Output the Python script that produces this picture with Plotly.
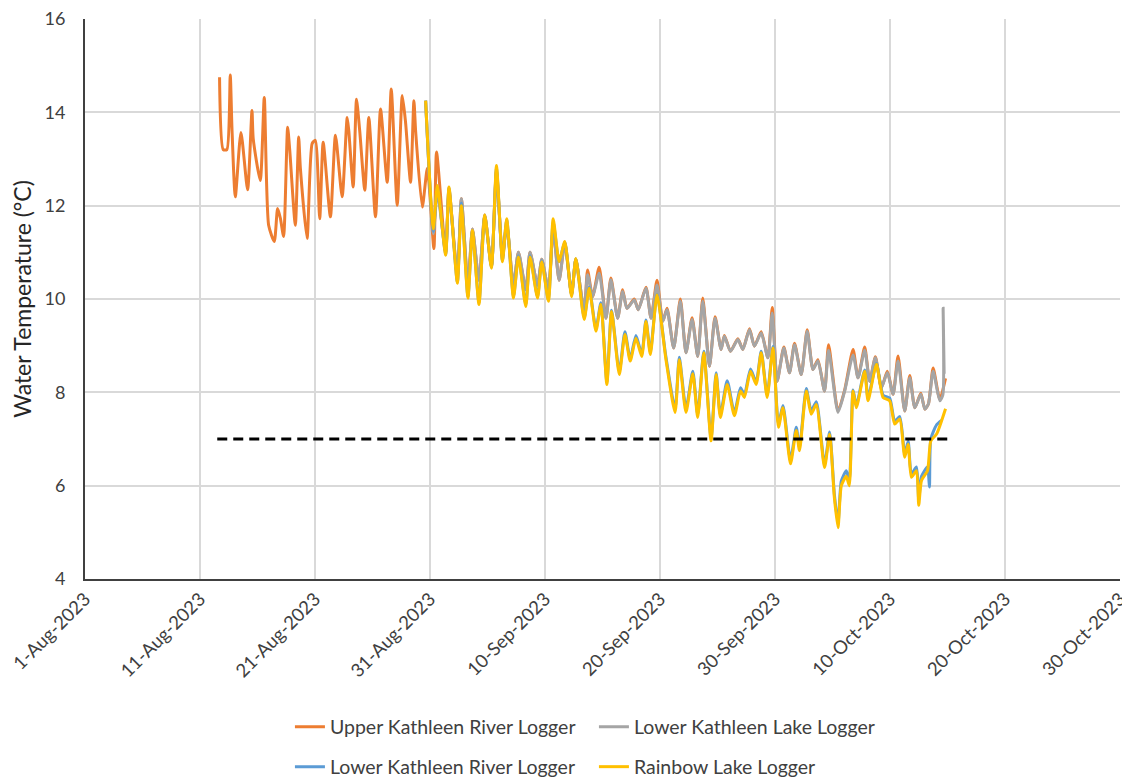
import pandas as pd
import plotly.graph_objects as go

# ---------------- data (days since 1-Aug-2023, water temperature °C) ----------------
START = pd.Timestamp("2023-08-01")

upper_days = [11.70, 12.02, 12.34, 12.63, 12.78, 13.07, 13.56, 14.14, 14.52, 14.63, 15.24, 15.59,
              15.97, 16.46, 16.75, 16.99, 17.27, 17.62, 17.80, 18.29, 18.58, 18.73, 19.31, 19.75,
              20.03, 20.41, 20.71, 21.34, 21.78, 22.36, 22.80, 22.94, 23.32, 23.61, 23.89, 24.33,
              24.68, 25.26, 25.70, 26.28, 26.63, 27.15, 27.59, 27.87, 28.31, 28.60, 28.75, 29.33,
              29.77, 30.34, 30.57, 31.36, 31.65, 32.38, 32.73, 33.30, 33.69, 34.26, 34.76, 35.34,
              35.78, 36.30, 36.67, 37.26, 37.69, 38.33, 38.70, 39.35, 39.72, 40.30, 40.71, 41.23,
              41.72, 42.31, 42.68, 43.41, 43.70, 44.14, 44.71, 45.30, 45.73, 46.32, 46.75, 47.13,
              47.76, 48.11, 48.78, 49.22, 49.74, 50.24, 50.61, 51.19, 51.77, 52.26, 52.79, 53.28,
              53.72, 54.30, 54.79, 55.31, 55.60, 56.13, 56.77, 57.20, 57.78, 58.21, 58.80, 59.38,
              59.76, 60.19, 60.77, 61.26, 61.70, 62.28, 62.80, 63.30, 63.73, 64.31, 64.66, 65.48,
              66.06, 66.79, 67.22, 67.80, 68.23, 68.73, 69.25, 69.77, 70.27, 70.70, 71.28, 71.72,
              72.16, 72.68, 73.03, 73.34, 73.75, 74.33, 74.83]
upper_temp = [14.75, 13.20, 13.20, 14.80, 13.65, 12.19, 13.57, 12.34, 14.04, 13.43, 12.54, 14.32,
              11.58, 11.23, 11.94, 11.73, 11.34, 13.68, 13.20, 11.58, 13.47, 12.80, 11.30, 13.33,
              13.40, 11.72, 13.36, 11.76, 13.51, 12.19, 13.89, 13.60, 12.40, 14.28, 13.60, 12.33,
              13.89, 11.76, 14.07, 12.50, 14.50, 12.01, 14.36, 13.80, 12.50, 14.25, 13.60, 11.97,
              12.80, 11.08, 13.15, 11.00, 12.35, 10.50, 12.15, 10.30, 11.50, 10.40, 11.80, 10.70,
              12.75, 10.90, 11.60, 10.30, 11.00, 10.20, 11.00, 10.30, 10.85, 10.20, 11.50, 10.40,
              11.20, 10.10, 10.85, 9.73, 10.62, 10.05, 10.68, 9.59, 10.45, 9.59, 10.20, 9.80,
              10.00, 9.77, 10.25, 9.59, 10.40, 9.52, 9.80, 8.95, 10.00, 8.85, 9.60, 8.77,
              10.02, 8.56, 9.62, 8.92, 9.22, 8.88, 9.15, 8.92, 9.36, 8.99, 9.30, 8.74,
              9.82, 8.24, 8.97, 8.42, 9.05, 8.38, 9.34, 8.49, 8.70, 8.03, 9.02, 7.60,
              8.05, 8.92, 8.31, 8.97, 8.24, 8.76, 8.10, 8.45, 7.96, 8.78, 7.60, 8.36,
              7.67, 7.98, 7.64, 7.75, 8.52, 7.85, 8.30]

lake_days = [29.62, 30.29, 30.64, 31.36, 31.65, 32.38, 32.73, 33.30, 33.69, 34.26, 34.76, 35.34,
             35.78, 36.30, 36.67, 37.26, 37.69, 38.33, 38.70, 39.35, 39.72, 40.30, 40.71, 41.23,
             41.72, 42.31, 42.68, 43.41, 43.70, 44.14, 44.71, 45.30, 45.73, 46.32, 46.75, 47.13,
             47.76, 48.11, 48.78, 49.22, 49.74, 50.24, 50.61, 51.19, 51.77, 52.26, 52.79, 53.28,
             53.72, 54.30, 54.79, 55.31, 55.60, 56.13, 56.77, 57.20, 57.78, 58.21, 58.80, 59.38,
             59.76, 60.19, 60.77, 61.26, 61.70, 62.28, 62.80, 63.30, 63.73, 64.31, 64.66, 65.48,
             66.06, 66.79, 67.22, 67.80, 68.23, 68.73, 69.25, 69.77, 70.27, 70.70, 71.28, 71.72,
             72.16, 72.68, 73.03, 73.34, 73.75, 74.33, 74.60, 74.62, 74.71]
lake_temp = [14.25, 11.40, 12.30, 11.00, 12.30, 10.50, 12.15, 10.30, 11.50, 10.40, 11.80, 10.70,
             12.70, 10.90, 11.60, 10.30, 11.00, 10.20, 11.00, 10.30, 10.85, 10.20, 11.50, 10.40,
             11.20, 10.10, 10.85, 9.73, 10.52, 10.05, 10.55, 9.59, 10.41, 9.59, 10.16, 9.80,
             9.98, 9.77, 10.23, 9.59, 10.30, 9.52, 9.77, 8.95, 9.95, 8.85, 9.56, 8.77,
             9.95, 8.56, 9.59, 8.92, 9.20, 8.88, 9.13, 8.92, 9.34, 8.99, 9.27, 8.74,
             9.70, 8.24, 8.95, 8.42, 9.02, 8.38, 9.31, 8.49, 8.67, 8.03, 8.90, 7.57,
             8.03, 8.80, 8.31, 8.90, 8.24, 8.74, 8.10, 8.42, 7.96, 8.67, 7.60, 8.31,
             7.67, 7.96, 7.64, 7.75, 8.45, 7.82, 7.95, 9.80, 8.40]

river_days = [29.62, 30.29, 30.64, 31.36, 31.65, 32.38, 32.73, 33.30, 33.69, 34.26, 34.76, 35.34,
              35.78, 36.30, 36.67, 37.26, 37.69, 38.33, 38.70, 39.35, 39.72, 40.30, 40.71, 41.23,
              41.72, 42.31, 42.68, 43.41, 43.84, 44.43, 44.86, 45.38, 45.79, 46.46, 46.95, 47.41,
              47.91, 48.41, 48.78, 49.16, 49.74, 50.52, 51.31, 51.68, 52.26, 52.85, 53.28, 53.81,
              54.44, 54.88, 55.25, 55.84, 56.47, 57.00, 57.34, 57.87, 58.36, 58.80, 59.32, 59.82,
              60.30, 60.69, 61.35, 61.85, 62.13, 62.72, 63.15, 63.59, 64.31, 64.75, 65.16, 65.48,
              65.77, 66.20, 66.46, 66.79, 67.07, 67.80, 68.09, 68.82, 69.40, 69.97, 70.41, 70.85,
              71.28, 71.58, 71.86, 72.30, 72.50, 72.74, 73.26, 73.43, 73.55, 74.04, 74.48]
river_temp = [14.25, 11.45, 12.40, 10.95, 12.38, 10.36, 12.05, 10.05, 11.45, 9.92, 11.78, 10.68,
              12.80, 10.82, 11.70, 10.06, 10.92, 9.88, 10.92, 10.05, 10.82, 9.98, 11.65, 10.80,
              11.22, 10.08, 10.86, 9.60, 10.25, 9.36, 9.92, 8.22, 9.76, 8.44, 9.30, 8.72,
              9.22, 8.82, 9.55, 8.86, 10.10, 8.75, 7.65, 8.75, 7.65, 8.45, 7.52, 8.88,
              7.02, 8.42, 7.52, 8.25, 7.56, 8.10, 7.95, 8.50, 8.22, 8.88, 7.94, 8.98,
              7.32, 7.72, 6.55, 7.25, 6.82, 8.08, 7.60, 7.80, 6.45, 7.15, 5.82, 5.20,
              6.10, 6.32, 6.10, 8.05, 7.72, 8.48, 7.88, 8.62, 7.94, 7.88, 7.38, 7.48,
              6.68, 6.95, 6.25, 6.40, 5.70, 6.20, 6.40, 5.97, 7.00, 7.30, 7.40]

rainbow_days = [29.62, 30.29, 30.64, 31.36, 31.65, 32.38, 32.73, 33.30, 33.69, 34.26, 34.76, 35.34,
                35.78, 36.30, 36.67, 37.26, 37.69, 38.33, 38.70, 39.35, 39.72, 40.30, 40.71, 41.23,
                41.72, 42.31, 42.68, 43.41, 43.84, 44.43, 44.86, 45.38, 45.79, 46.46, 46.95, 47.41,
                47.91, 48.41, 48.78, 49.16, 49.74, 50.52, 51.31, 51.68, 52.26, 52.85, 53.28, 53.81,
                54.44, 54.88, 55.25, 55.84, 56.47, 57.00, 57.34, 57.87, 58.36, 58.80, 59.32, 59.82,
                60.30, 60.69, 61.35, 61.85, 62.13, 62.72, 63.15, 63.59, 64.31, 64.75, 65.16, 65.48,
                65.77, 66.20, 66.46, 66.79, 67.07, 67.80, 68.09, 68.82, 69.40, 69.97, 70.41, 70.85,
                71.28, 71.58, 71.86, 72.30, 72.50, 72.74, 73.26, 73.55, 74.04, 74.83]
rainbow_temp = [14.25, 11.50, 12.43, 10.94, 12.40, 10.34, 12.00, 10.02, 11.47, 9.88, 11.80, 10.66,
                12.86, 10.80, 11.72, 10.02, 10.90, 9.84, 10.90, 10.02, 10.80, 9.95, 11.72, 10.80,
                11.23, 10.05, 10.87, 9.56, 10.23, 9.31, 9.88, 8.17, 9.73, 8.38, 9.24, 8.67,
                9.16, 8.77, 9.52, 8.81, 10.09, 8.70, 7.57, 8.70, 7.57, 8.40, 7.46, 8.85,
                6.96, 8.38, 7.46, 8.17, 7.50, 8.03, 7.89, 8.45, 8.17, 8.85, 7.89, 8.95,
                7.25, 7.67, 6.47, 7.18, 6.75, 8.03, 7.53, 7.74, 6.39, 7.10, 5.75, 5.10,
                6.00, 6.20, 6.00, 8.03, 7.67, 8.45, 7.82, 8.60, 7.89, 7.82, 7.32, 7.43,
                6.61, 6.89, 6.18, 6.32, 5.58, 6.11, 6.32, 6.96, 7.10, 7.65]

threshold_days = [11.5, 75.2]
threshold_temp = [7, 7]

x_tick_days = [0, 10, 20, 30, 40, 50, 60, 70, 80, 90]
y_ticks = [4, 6, 8, 10, 12, 14, 16]


def to_dates(days):
    return START + pd.to_timedelta(days, unit="D")


series = [
    ("Upper Kathleen River Logger", upper_days, upper_temp, "#ED7D31", "legend"),
    ("Lower Kathleen Lake Logger", lake_days, lake_temp, "#A5A5A5", "legend"),
    ("Lower Kathleen River Logger", river_days, river_temp, "#5B9BD5", "legend2"),
    ("Rainbow Lake Logger", rainbow_days, rainbow_temp, "#FFC000", "legend2"),
]

fig = go.Figure()
for name, d, t, c, lg in series:
    fig.add_trace(go.Scatter(
        x=to_dates(d), y=t, mode="lines", name=name, legend=lg,
        line=dict(color=c, width=3, shape="spline", smoothing=0.6),
    ))

fig.add_trace(go.Scatter(
    x=to_dates(threshold_days), y=threshold_temp, mode="lines", showlegend=False,
    line=dict(color="black", width=3, dash="10px,6px"),
))

tickvals = to_dates(x_tick_days)
ticktext = [f"{v.day}-{v.strftime('%b')}-{v.year}" for v in tickvals]

font_family = "Lato, 'Open Sans', sans-serif"
legend_common = dict(orientation="h", xanchor="left", x=0.198, yanchor="middle", yref="container",
                     entrywidth=259, entrywidthmode="pixels",
                     font=dict(size=19.5, color="#404040"), bgcolor="rgba(0,0,0,0)")
# page body has an 8px default margin, so the figure is sized to fit the 1130x782 window
fig.update_layout(
    width=1122, height=774,
    margin=dict(l=77, r=10, t=11, b=203),
    paper_bgcolor="white", plot_bgcolor="white",
    font=dict(family=font_family, size=17, color="#404040"),
    showlegend=True,
    legend=dict(**legend_common, y=0.0711),
    legend2=dict(**legend_common, y=0.0194),
    xaxis=dict(
        range=[tickvals[0], tickvals[-1]], automargin=False,
        tickmode="array", tickvals=tickvals, ticktext=ticktext, tickangle=-45,
        ticklabeloverflow="allow",
        showgrid=True, gridcolor="#D9D9D9", gridwidth=2,
        showline=True, linecolor="#404040", linewidth=2,
        ticks="", zeroline=False,
        tickfont=dict(size=18.5, color="#404040"),
    ),
    yaxis=dict(
        range=[4, 16], tickmode="array", tickvals=y_ticks, automargin=False,
        ticklabeloverflow="allow",
        showgrid=True, gridcolor="#D9D9D9", gridwidth=2,
        showline=True, linecolor="#404040", linewidth=2,
        ticks="", zeroline=False, ticklabelstandoff=14,
        title=dict(text="Water Temperature (°C)", font=dict(size=23, color="#262626"), standoff=12),
        tickfont=dict(size=18, color="#404040"),
    ),
)

fig.write_html("out.html")
